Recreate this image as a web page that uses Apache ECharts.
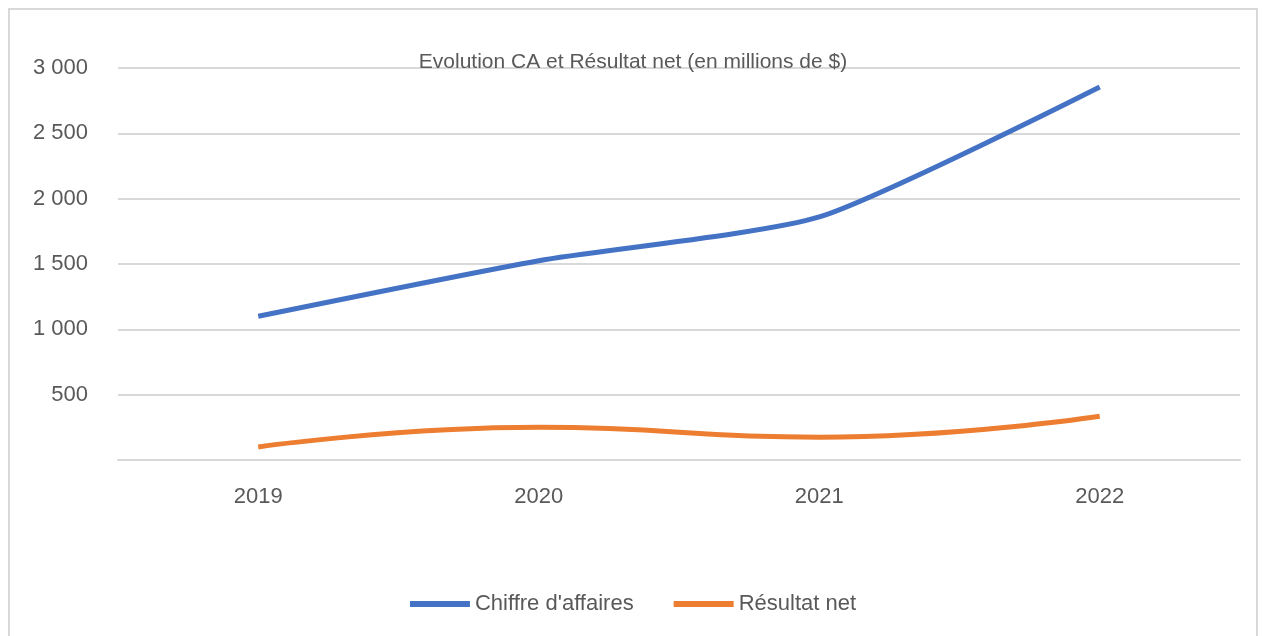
<!DOCTYPE html>
<html>
<head>
<meta charset="utf-8">
<script src="https://cdn.jsdelivr.net/npm/echarts@6/dist/echarts.min.js"></script>
<style>
  html, body { margin: 0; padding: 0; background: #fff; overflow: hidden; }
  #chart {
    position: absolute; left: 8px; top: 8px;
    width: 1250px; height: 640px;
    border: 2px solid #d9d9d9; box-sizing: border-box;
  }
</style>
</head>
<body>
<div id="chart"></div>
<script>
// données
const years = ["2019", "2020", "2021", "2022"];
const chiffreAffaires = [1100, 1525, 1860, 2855];
const resultatNet = [100, 250, 175, 335];

const chart = echarts.init(document.getElementById("chart"));

// formatage "3 000", zéro masqué comme dans Excel
const fmt = (v) => {
  if (v === 0) return "";
  if (v >= 1000) return Math.floor(v / 1000) + " " + String(v % 1000).padStart(3, "0");
  return String(v);
};

chart.setOption({
  animation: false,
  textStyle: { fontFamily: "Liberation Sans" },
  title: {
    text: "Evolution CA et Résultat net (en millions de $)",
    left: "center",
    top: 37,
    textStyle: { color: "#595959", fontSize: 21, fontWeight: "normal" },
  },
  grid: { left: 108, right: 16, top: 58, bottom: 186 },
  legend: {
    bottom: 26,
    left: "center",
    itemWidth: 60,
    itemHeight: 6,
    itemGap: 40,
    icon: "rect",
    textStyle: { color: "#595959", fontSize: 22 },
    data: ["Chiffre d'affaires", "Résultat net"],
  },
  xAxis: {
    type: "category",
    data: years,
    axisLine: { lineStyle: { color: "#d9d9d9", width: 2 } },
    axisTick: { show: false },
    axisLabel: { color: "#595959", fontSize: 22, margin: 26 },
  },
  yAxis: {
    type: "value",
    min: 0,
    max: 3000,
    interval: 500,
    axisLine: { show: false },
    axisTick: { show: false },
    splitLine: { lineStyle: { color: "#d9d9d9", width: 2 } },
    axisLabel: { color: "#595959", fontSize: 22, margin: 30, formatter: fmt },
  },
  series: [
    {
      name: "Chiffre d'affaires",
      type: "line",
      data: chiffreAffaires,
      smooth: 0.2,
      symbol: "none",
      lineStyle: { color: "#4472c4", width: 5 },
      itemStyle: { color: "#4472c4" },
    },
    {
      name: "Résultat net",
      type: "line",
      data: resultatNet,
      smooth: true,
      symbol: "none",
      lineStyle: { color: "#ed7d31", width: 5 },
      itemStyle: { color: "#ed7d31" },
    },
  ],
});
</script>
</body>
</html>
